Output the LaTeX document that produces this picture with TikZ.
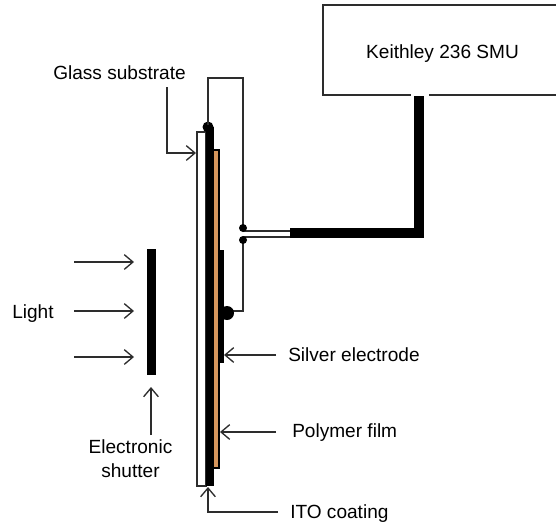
\documentclass[tikz,border=0pt]{standalone}
\usepackage{fontspec}
\setmainfont{Liberation Sans}
\usetikzlibrary{arrows.meta}
\definecolor{polymer}{RGB}{214,150,92}
\definecolor{linegray}{RGB}{45,45,45}
\tikzset{
  label/.style={inner sep=0pt,font=\fontsize{14.3}{18}\selectfont,align=center},
  pointer/.style={draw=linegray,line width=1.2pt,-{Straight Barb[length=6.5pt,width=11pt,line width=1pt]}},
  wire/.style={draw=linegray,line width=1.2pt},
  cable/.style={draw=black,line width=7.2pt}
}
\begin{document}
\begin{tikzpicture}[x=0.75pt,y=-0.75pt]
\useasboundingbox (0,0) rectangle (556,522);

% instrument
\draw[line width=1.2pt,draw=linegray] (556,5) -- (323,5) -- (323,95) -- (411,95);
\draw[line width=1.2pt,draw=linegray] (429,95) -- (556,95);
\node[label,anchor=base] (smu) at (442.5,58) {Keithley 236 SMU};

% sample layers
\draw[line width=1.2pt,draw=linegray,fill=white] (197,132) rectangle (206,486);
\fill[black] (206,127) rectangle (213.5,486);
\fill[black] (208,127) circle (5.5);
\draw[line width=0.8pt,draw=black,fill=polymer] (213.5,150) rectangle (219,468);
\fill[black] (219,250) rectangle (223.5,363);

% shutter
\fill[black] (147,249) rectangle (156,375);

% points on the wiring
\coordinate (itotop) at (208,125);
\coordinate (wiretl) at (208,78);
\coordinate (wiretr) at (243,78);
\coordinate (jointop) at (243,228);
\coordinate (joinbot) at (243,240);
\coordinate (wirebr) at (243,311);
\coordinate (silvercon) at (227,313);
\coordinate (cableleft) at (290,233);
\coordinate (cablecor) at (419,233);
\coordinate (cabletop) at (419,96);
\coordinate (splittop) at (290,231);
\coordinate (splitbot) at (290,237);

\draw[wire] (itotop) -- (wiretl) -- (wiretr) -- (jointop);
\draw[wire] (joinbot) -- (wirebr) -- (silvercon |- wirebr);
\draw[wire] (jointop |- splittop) -- (splittop);
\draw[wire] (joinbot |- splitbot) -- (splitbot);
\fill[black] (jointop) circle (4);
\fill[black] (joinbot) circle (4);
\fill[black] (silvercon) circle (7);
\draw[cable,line join=miter] (cableleft) -- (cablecor) -- (cabletop);

% labels
\node[label,anchor=base west] (glass) at (53,79) {Glass substrate};
\node[label,anchor=base west] (light) at (12,318) {Light};
\node[label] (shutter) at (130.5,459) {Electronic\\shutter};
\node[label,anchor=base west] (silver) at (288,361) {Silver electrode};
\node[label,anchor=base west] (film) at (292,437) {Polymer film};
\node[label,anchor=base west] (ito) at (290,518) {ITO coating};

% pointers
\coordinate (glassa) at (167,87);
\coordinate (glassb) at (167,153);
\coordinate (glassc) at (196,153);
\draw[pointer] (glassa) -- (glassb) -- (glassc);
\coordinate (lighta) at (74,262);
\coordinate (lightb) at (134,262);
\coordinate (lightc) at (74,311);
\coordinate (lightd) at (134,311);
\coordinate (lighte) at (74,357);
\coordinate (lightf) at (134,357);
\draw[pointer] (lighta) -- (lightb);
\draw[pointer] (lightc) -- (lightd);
\draw[pointer] (lighte) -- (lightf);
\coordinate (shuttera) at (151,435);
\coordinate (shutterb) at (151,387);
\draw[pointer] (shuttera) -- (shutterb);
\coordinate (silvera) at (276,355);
\coordinate (silverb) at (224,355);
\draw[pointer] (silvera) -- (silverb);
\coordinate (filma) at (276,432);
\coordinate (filmb) at (220,432);
\draw[pointer] (filma) -- (filmb);
\coordinate (itoa) at (278,512);
\coordinate (itob) at (208,512);
\coordinate (itoc) at (208,487);
\draw[pointer] (itoa) -- (itob) -- (itoc);

\end{tikzpicture}
\end{document}
